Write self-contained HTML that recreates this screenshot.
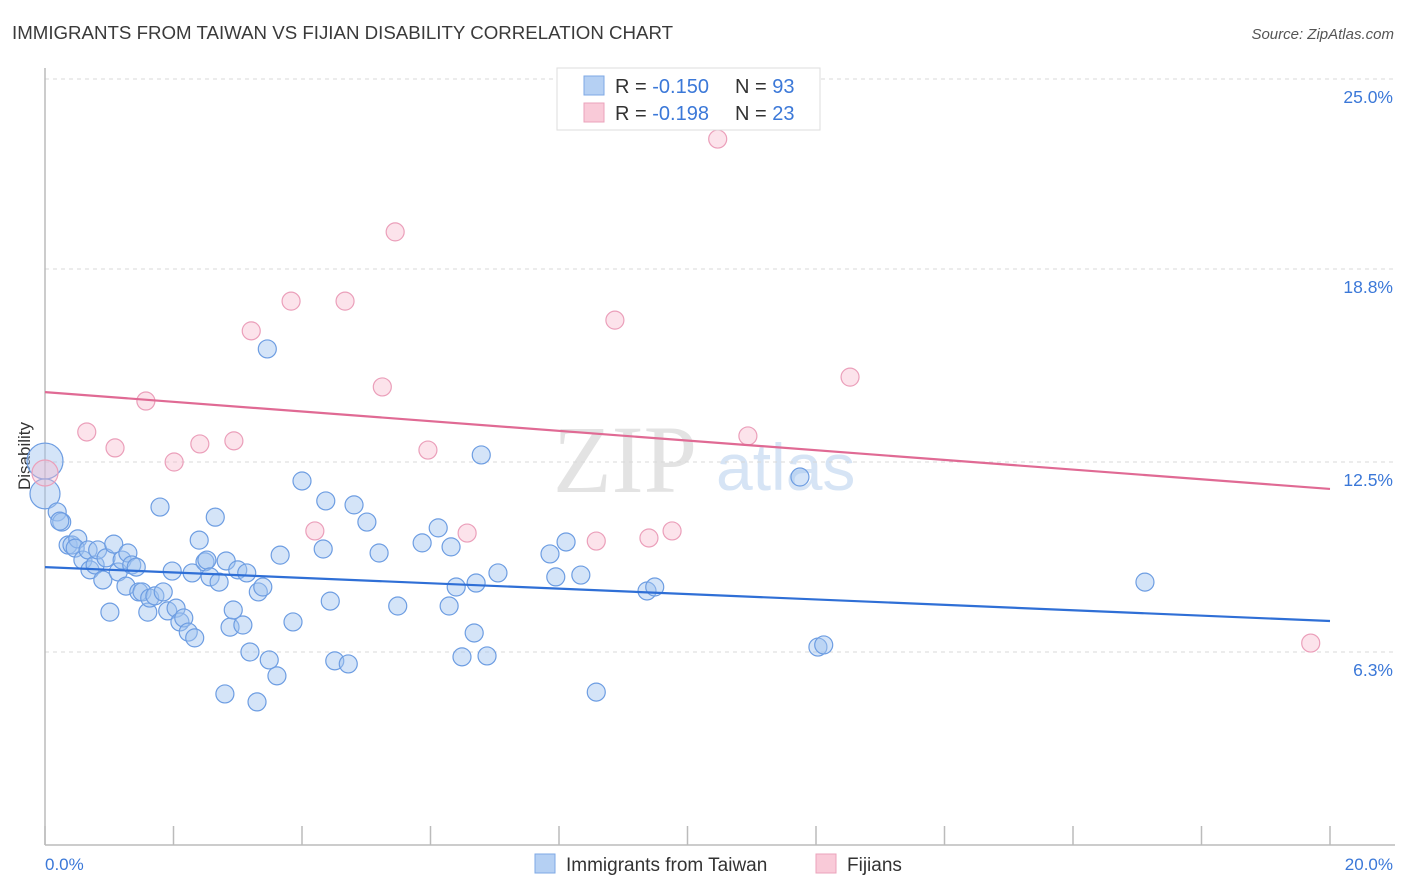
<!DOCTYPE html>
<html><head><meta charset="utf-8"><style>
body{margin:0;background:#fff;font-family:"Liberation Sans",sans-serif;}
#c{position:relative;width:1406px;height:892px;overflow:hidden}
</style></head><body>
<div id="c">
<svg id="s" width="1406" height="892" xmlns="http://www.w3.org/2000/svg">
<text x="12" y="39" font-size="18.7" fill="#3a3a3a">IMMIGRANTS FROM TAIWAN VS FIJIAN DISABILITY CORRELATION CHART</text>
<text x="1394" y="39" font-size="15" fill="#555" font-style="italic" text-anchor="end">Source: ZipAtlas.com</text>
<g>
<text x="553" y="492" font-size="96" font-family="Liberation Serif,serif" fill="#e3e3e3">ZIP</text>
<text x="716" y="490" font-size="66" fill="#d6e4f5">atlas</text>
</g>
<g id="grid"></g>
<line x1="45" y1="68" x2="45" y2="845" stroke="#bbb" stroke-width="1.5"/>
<line x1="45" y1="845" x2="1395" y2="845" stroke="#bbb" stroke-width="1.5"/>
<g id="ticks"></g>
<text x="0" y="0" transform="translate(30,456) rotate(-90)" font-size="17" fill="#333" text-anchor="middle">Disability</text>
<g id="pts"></g>
<g id="lines"></g>
<text x="45" y="870" font-size="17" fill="#3b78d8">0.0%</text>
<text x="1393" y="870" font-size="17" fill="#3b78d8" text-anchor="end">20.0%</text>
<g>
<rect x="557" y="68" width="263" height="62" fill="#fff" stroke="#ddd"/>
<rect x="584" y="76" width="20" height="19" fill="#b5d0f3" stroke="#7ea8e6"/>
<rect x="584" y="103" width="20" height="19" fill="#f9cad8" stroke="#eba3bb"/>
<text x="615" y="93" font-size="20" fill="#333">R = <tspan fill="#3b78d8">-0.150</tspan><tspan x="735">N = </tspan><tspan fill="#3b78d8">93</tspan></text>
<text x="615" y="120" font-size="20" fill="#333">R = <tspan fill="#3b78d8"> -0.198</tspan><tspan x="735">N = </tspan><tspan fill="#3b78d8">23</tspan></text>
</g>
<g>
<rect x="535" y="854" width="20" height="19" fill="#b5d0f3" stroke="#7ea8e6"/>
<text x="566" y="871" font-size="19" fill="#333">Immigrants from Taiwan</text>
<rect x="816" y="854" width="20" height="19" fill="#f9cad8" stroke="#eba3bb"/>
<text x="847" y="871" font-size="19" fill="#333">Fijians</text>
</g>
</svg>
</div>
<script>
const yTicks=[25.0,18.8,12.5,6.3];
const yTickLabels=["25.0%","18.8%","12.5%","6.3%"];
const taiwanX=[0,0,0.19,0.26,0.23,0.36,0.42,0.51,0.47,0.59,0.67,0.70,0.78,0.82,0.90,0.95,1.01,1.07,1.14,1.20,1.26,1.29,1.35,1.42,1.46,1.51,1.60,1.63,1.71,1.79,1.84,1.91,1.98,2.04,2.10,2.16,2.23,2.33,2.29,2.40,2.49,2.52,2.57,2.65,2.71,2.80,2.82,2.88,2.93,3.00,3.08,3.14,3.19,3.30,3.32,3.39,3.46,3.49,3.61,3.66,3.86,4.00,4.33,4.37,4.44,4.51,4.72,4.81,5.01,5.20,5.49,5.87,6.12,6.29,6.32,6.40,6.49,6.68,6.71,6.79,6.88,7.05,7.86,7.95,8.11,8.34,8.58,9.37,9.49,11.75,12.03,12.12,17.12];
const taiwanY=[12.53,11.46,10.87,10.54,10.57,9.79,9.79,9.99,9.69,9.30,9.63,8.98,9.14,9.63,8.65,9.37,7.60,9.82,8.91,9.30,8.45,9.53,9.14,9.07,8.26,8.26,7.60,8.06,8.13,11.03,8.26,7.64,8.94,7.73,7.28,7.41,6.95,6.76,8.88,9.95,9.24,9.30,8.75,10.70,8.58,4.93,9.27,7.11,7.67,8.98,7.18,8.88,6.30,4.67,8.26,8.42,16.19,6.04,5.52,9.46,7.28,11.88,9.66,11.23,7.96,6.01,5.91,11.10,10.54,9.53,7.80,9.86,10.35,7.80,9.73,8.42,6.14,6.92,8.55,12.73,6.17,8.88,9.50,8.75,9.89,8.81,4.99,8.29,8.42,12.01,6.46,6.53,8.58];
const fijiX=[0,0.65,1.09,1.57,2.01,2.41,2.94,3.21,3.83,4.20,4.67,5.25,5.45,5.96,6.57,8.58,8.87,9.40,9.76,10.47,10.94,12.53,19.70];
const fijiY=[12.14,13.48,12.96,14.49,12.50,13.09,13.19,16.78,17.75,10.25,17.75,14.95,20.01,12.89,10.18,9.92,17.13,10.02,10.25,23.04,13.35,15.27,6.59];
const taiwanTrend=[9.07,7.31];
const fijiTrend=[14.78,11.62];
const NS="http://www.w3.org/2000/svg";
function sx(v){return 45+v/20*1285;}
function sy(v){return 845-v/25*766;}
function mk(t,a,p){const e=document.createElementNS(NS,t);for(const k in a)e.setAttribute(k,a[k]);p.appendChild(e);return e;}
const grid=document.getElementById('grid');
yTicks.forEach((v,i)=>{
 const l=mk('line',{x1:45,x2:1395,y1:sy(v),y2:sy(v),stroke:'#d8d8d8','stroke-dasharray':'4,4'},grid);
 
 
 const t=mk('text',{x:1393,y:sy(v)+24,'font-size':17.5,fill:'#3b78d8','text-anchor':'end'},grid);
 t.textContent=yTickLabels[i];
 
 
});
const tk=document.getElementById('ticks');
for(let i=0;i<=10;i++){
 const l=mk('line',{x1:sx(i*2),x2:sx(i*2),y1:826,y2:845,stroke:'#bbb','stroke-width':1.5},tk);
 
 
}
const pts=document.getElementById('pts');
taiwanX.forEach((x,i)=>{
 const r=i===0?18:(i===1?15:9);
 const c=mk('circle',{cx:sx(x),cy:sy(taiwanY[i]),r:r,fill:'rgba(160,196,240,0.45)',stroke:'#6d9de2','stroke-width':1.2},pts);
 
 
});
fijiX.forEach((x,i)=>{
 const r=i===0?13:9;
 const c=mk('circle',{cx:sx(x),cy:sy(fijiY[i]),r:r,fill:'rgba(247,185,205,0.4)',stroke:'#eb9fba','stroke-width':1.2},pts);
 
 
});
const ln=document.getElementById('lines');
const b=mk('line',{x1:sx(0),y1:sy(taiwanTrend[0]),x2:sx(20),y2:sy(taiwanTrend[1]),stroke:'#2f6fd6','stroke-width':2.2},ln);


const p=mk('line',{x1:sx(0),y1:sy(fijiTrend[0]),x2:sx(20),y2:sy(fijiTrend[1]),stroke:'#e06a94','stroke-width':2.2},ln);


</script>
</body></html>
